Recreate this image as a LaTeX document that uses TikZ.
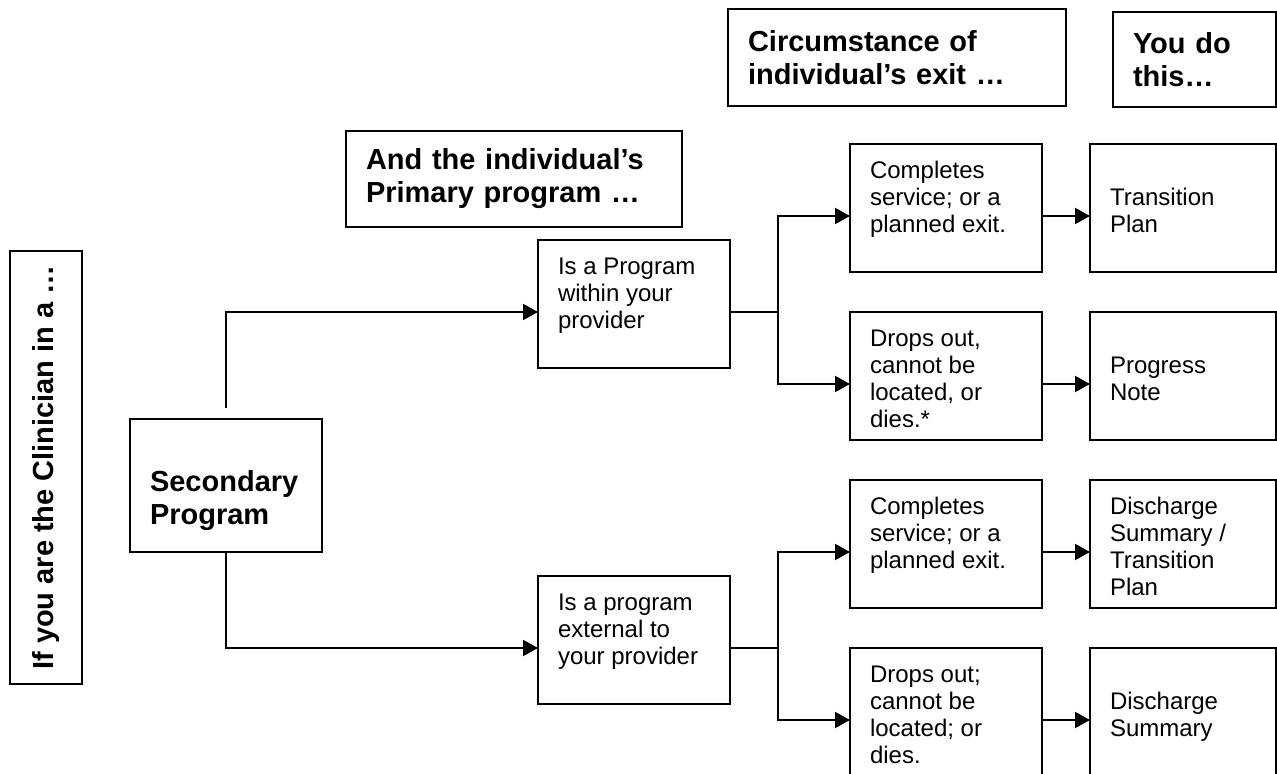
\documentclass[tikz,border=0pt]{standalone}
\usepackage{fontspec}
\setmainfont{Liberation Sans}
\usepackage{tikz}
\usetikzlibrary{arrows.meta}
\newcommand{\boxtext}[3]{\parbox[c][#1][t]{#2}{\strut#3}}

\begin{document}
\begin{tikzpicture}[x=0.5pt, y=-0.5pt,
    >={Triangle[length=7.5pt, width=8pt]},
    headbox/.style={rectangle, draw, line width=1pt, outer sep=0pt, anchor=north west, inner xsep=10pt, inner ysep=0pt, align=left, font=\bfseries\fontsize{14.5}{16.5}\selectfont},
    sidebox/.style={rectangle, draw, line width=1pt, outer sep=0pt, rotate=90, minimum width=216.5pt, minimum height=36pt, inner sep=0pt, font=\bfseries\fontsize{14.5}{16.5}\selectfont},
    cellbox/.style={rectangle, draw, line width=1pt, outer sep=0pt, anchor=north west, inner xsep=10pt, inner ysep=8pt, font=\fontsize{12}{13.5}\selectfont},
    link/.style={->, line width=1pt}
]
\useasboundingbox (0,0) rectangle (1277,774);

% Column headers
\node[headbox, text width=148pt, minimum height=48pt] (primhd) at (346,131) {And the individual’s\\Primary program …};
\node[headbox, text width=149pt, minimum height=48.5pt] (exithd) at (728,9) {Circumstance of\\individual’s exit …};
\node[headbox, text width=61.5pt, minimum height=47.5pt] (dohd) at (1113,12) {You do\\this…};

% Left side
\node[sidebox] (side) at (46,467.5) {If you are the Clinician in a …};
\node[cellbox, font=\bfseries\fontsize{14.5}{16.5}\selectfont] (sec) at (130,419) {\boxtext{50.5pt}{76pt}{\\Secondary\\Program}};

% Primary program
\node[cellbox] (inprov) at (538,240) {\boxtext{48pt}{76pt}{Is a Program\\within your\\provider}};
\node[cellbox] (extprov) at (538,576) {\boxtext{48pt}{76pt}{Is a program\\external to\\your provider}};

% Circumstance of exit
\node[cellbox] (comp1) at (850,144) {\boxtext{48pt}{76pt}{Completes\\service; or a\\planned exit.}};
\node[cellbox] (drop1) at (850,312) {\boxtext{48pt}{76pt}{Drops out,\\cannot be\\located, or\\dies.*}};
\node[cellbox] (comp2) at (850,480) {\boxtext{48pt}{76pt}{Completes\\service; or a\\planned exit.}};
\node[cellbox] (drop2) at (850,648) {\boxtext{48pt}{76pt}{Drops out;\\cannot be\\located; or\\dies.}};

% What to do
\node[cellbox] (trans) at (1090,144) {\boxtext{48pt}{73pt}{\\Transition\\Plan}};
\node[cellbox] (prognote) at (1090,312) {\boxtext{48pt}{73pt}{\\Progress\\Note}};
\node[cellbox] (dischtrans) at (1090,480) {\boxtext{48pt}{73pt}{Discharge\\Summary /\\Transition\\Plan}};
\node[cellbox] (disch) at (1090,648) {\boxtext{48pt}{73pt}{\\Discharge\\Summary}};

% Secondary to primary
\draw[link] ([yshift=5.5pt]sec.north) |- ([yshift=-4pt]inprov.west);
\draw[link] (sec.south) |- ([yshift=-4pt]extprov.west);

% Forks to exits
\draw[line width=1pt] ([yshift=-4pt]inprov.east) -- ++(48,0) coordinate (fork1);
\draw[link] (fork1) |- ([yshift=-4pt]comp1.west);
\draw[link] (fork1) |- ([yshift=-4pt]drop1.west);
\draw[line width=1pt] ([yshift=-4pt]extprov.east) -- ++(48,0) coordinate (fork2);
\draw[link] (fork2) |- ([yshift=-4pt]comp2.west);
\draw[link] (fork2) |- ([yshift=-4pt]drop2.west);

% Exits to actions
\foreach \a/\b in {comp1/trans, drop1/prognote, comp2/dischtrans, drop2/disch}
  \draw[link] ([yshift=-4pt]\a.east) -- ([yshift=-4pt]\b.west);

\end{tikzpicture}
\end{document}
